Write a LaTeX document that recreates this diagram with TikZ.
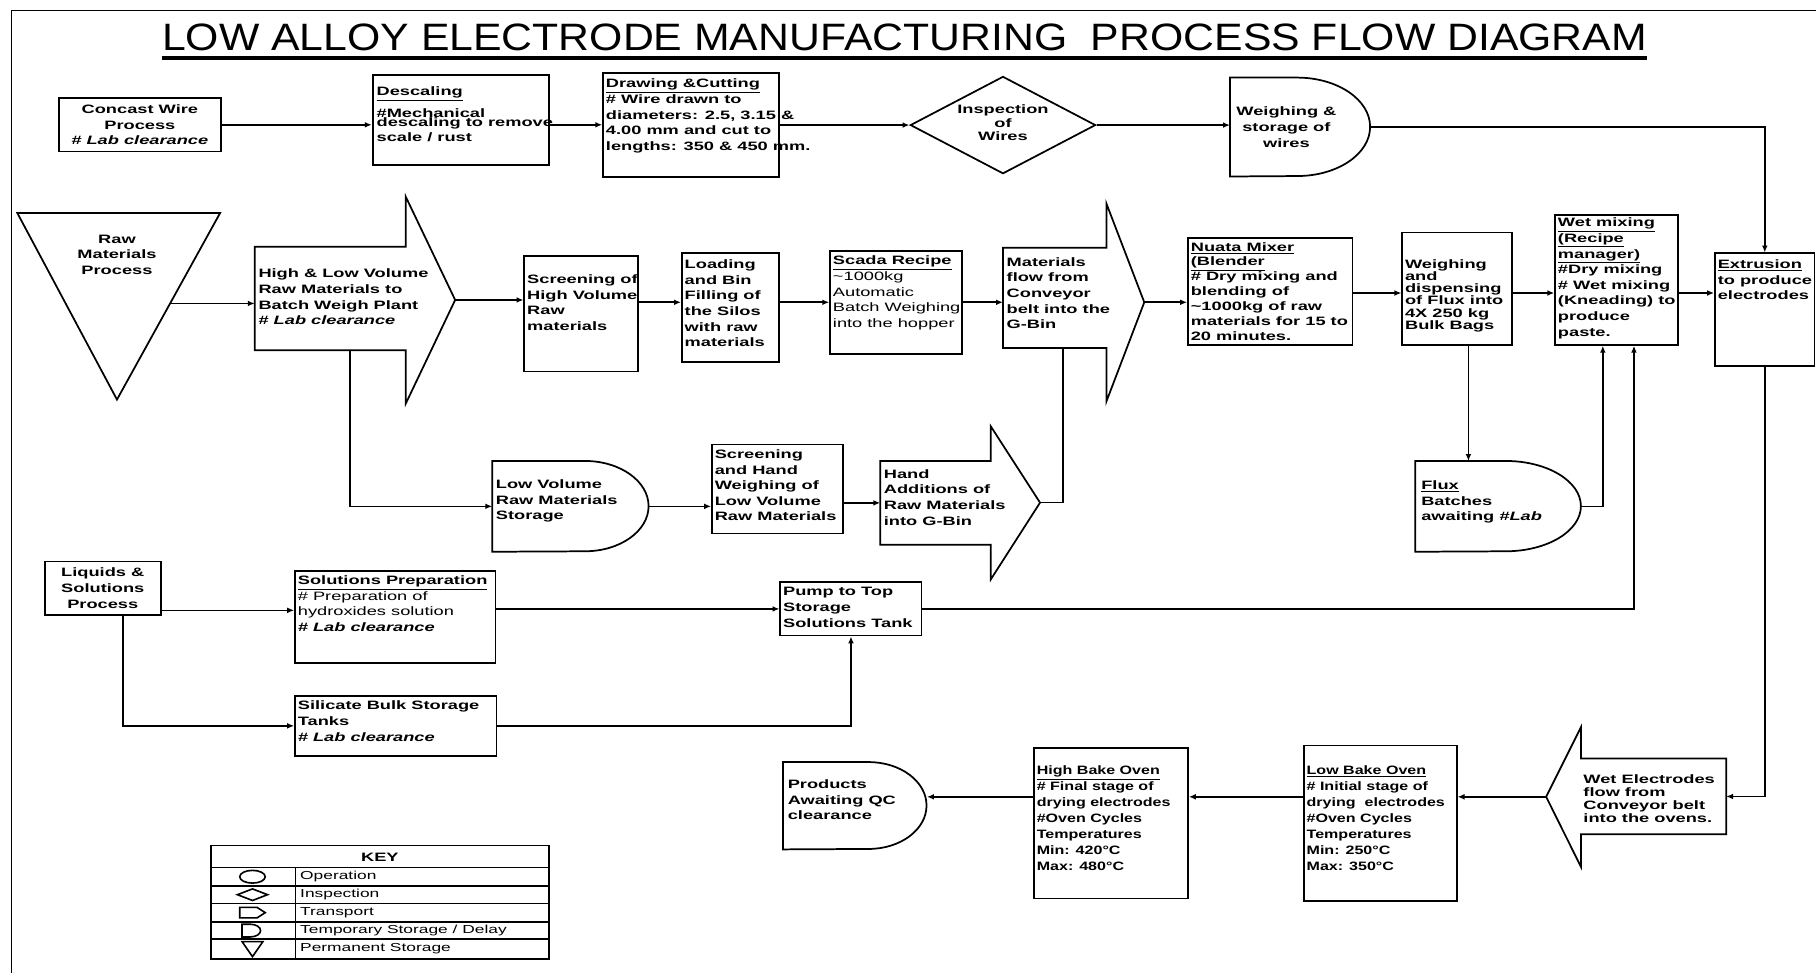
\documentclass[tikz,border=0pt]{standalone}
\usepackage{graphicx}
\usepackage{fontspec}
\setmainfont{Liberation Sans}[FakeStretch=1.5]
\newfontfamily\titlefont{Liberation Sans}
\newfontfamily\ovenfont{Liberation Sans}[FakeStretch=1.32]
\usetikzlibrary{shapes.geometric,arrows.meta,calc}
\newcommand{\bfont}{\fontsize{10.5}{13.5}\selectfont\bfseries}
\tikzset{
  box/.style={draw,line width=1.5pt,inner sep=0pt,anchor=north west},
  hid/.style={inner sep=0pt,anchor=north west},
  txt/.style={anchor=north west,align=left,inner sep=0pt,font=\bfont},
  ctxt/.style={align=center,inner sep=0pt,font=\bfont},
  shp/.style={draw,line width=1.5pt},
  arr/.style={-{Latex[length=6pt,width=5pt]},line width=1.4pt},
  ln/.style={line width=1.4pt},
  keytxt/.style={anchor=west,inner sep=0pt,font=\fontsize{10}{12}\selectfont}
}
\begin{document}
\begin{tikzpicture}[x=1pt,y=-1pt]
  \useasboundingbox (0,0) rectangle (1568,840);
  \draw[ln] (10,840) -- (10,9) -- (1568,9);
  \node[inner sep=0pt,anchor=south] (title) at (781,44)
    {\resizebox{1282pt}{23pt}{\titlefont LOW ALLOY ELECTRODE MANUFACTURING\ \ PROCESS FLOW DIAGRAM}};
  \draw[line width=3.5pt] (140,50) -- (1422,50);

  % wire line
  \node[box,minimum width=140,minimum height=46,align=center,font=\bfont] (conc) at (50,84)
    {Concast Wire\\Process\\\textit{\# Lab clearance}};
  \node[box,minimum width=152,minimum height=78] (desc) at (321,64) {};
  \node[txt] (desc-t) at ([shift={(4,11)}]desc.north west)
    {\underline{Descaling}\\[5pt]\#Mechanical\\[-6pt]descaling to remove\\scale / rust};
  \node[box,minimum width=152,minimum height=90] (drw) at (520,62) {};
  \node[txt] (drw-t) at ([shift={(3,6)}]drw.north west)
    {\underline{Drawing \&Cutting}\\\# Wire drawn to\\diameters: 2.5, 3.15 \&\\4.00 mm and cut to\\lengths: 350 \& 450 mm.};
  \node[diamond,shp,minimum width=160,minimum height=84,inner sep=0pt,aspect=1.9] (insp) at (866,108) {};
  \node[ctxt,font=\fontsize{10.5}{11.5}\selectfont\bfseries] (insp-t) at (866,106) {Inspection\\of\\Wires};
  \node[hid,minimum width=121,minimum height=85] (wst) at (1062,67) {};
  \draw[shp] (wst.north west) -- ++(58,0) arc[start angle=90,end angle=-90,x radius=63pt,y radius=42.5pt]
    -- (wst.south west) -- cycle;
  \node[ctxt] (wst-t) at ([xshift=-12pt]wst.center) {Weighing \&\\storage of\\wires};

  % raw materials line
  \draw[shp] (15,184) -- (190,184) -- (101,345) -- cycle;
  \node[ctxt] (tri) at (101,220) {Raw\\Materials\\Process};
  \coordinate (tri-e) at (147,262);
  \node[hid,minimum width=130,minimum height=89] (hlv) at (220,213) {};
  \coordinate (hlv-tip) at (393,259);
  \draw[shp] (hlv.north west) -- (hlv.north east) -- ++(0,-43) -- (hlv-tip)
    -- ($(hlv.south east)+(0,46)$) -- (hlv.south east) -- (hlv.south west) -- cycle;
  \node[txt] (hlv-t) at ([shift={(3,19)}]hlv.north west)
    {High \& Low Volume\\Raw Materials to\\Batch Weigh Plant\\\# \textit{Lab clearance}};
  \node[box,minimum width=98,minimum height=100] (scrh) at (452,220) {};
  \node[txt] (scrh-t) at ([shift={(3,17)}]scrh.north west) {Screening of\\High Volume\\Raw\\materials};
  \node[box,minimum width=84,minimum height=94] (load) at (588,218) {};
  \node[txt] (load-t) at ([shift={(3,6)}]load.north west)
    {Loading\\and Bin\\Filling of\\the Silos\\with raw\\materials};
  \node[box,minimum width=114,minimum height=89] (scada) at (716,216) {};
  \node[txt] (scada-t) at ([shift={(3,5)}]scada.north west)
    {\underline{Scada Recipe}\\\mdseries\textasciitilde1000kg\\\mdseries Automatic\\\mdseries Batch Weighing\\\mdseries into the hopper};
  \node[hid,minimum width=89,minimum height=86] (mf) at (866,214) {};
  \coordinate (mf-tip) at (988,261);
  \draw[shp] (mf.north west) -- (mf.north east) -- ++(0,-38) -- (mf-tip)
    -- ($(mf.south east)+(0,46)$) -- (mf.south east) -- (mf.south west) -- cycle;
  \node[txt] (mf-t) at ([shift={(3,8)}]mf.north west)
    {Materials\\flow from\\Conveyor\\belt into the\\G-Bin};
  \node[box,minimum width=142,minimum height=92] (nuata) at (1025,205) {};
  \node[txt,font=\fontsize{10.5}{12.8}\selectfont\bfseries] (nuata-t) at ([shift={(3,4)}]nuata.north west)
    {\underline{Nuata Mixer}\\\underline{(Blender}\\\# Dry mixing and\\blending of\\\textasciitilde1000kg of raw\\materials for 15 to\\20 minutes.};
  \node[box,minimum width=95,minimum height=97] (weigh) at (1210,200) {};
  \node[txt,font=\fontsize{10.5}{10.5}\selectfont\bfseries] (weigh-t) at ([shift={(3,24)}]weigh.north west)
    {Weighing\\and\\dispensing\\of Flux into\\4X 250 kg\\Bulk Bags};
  \node[box,minimum width=106,minimum height=112] (wetmix) at (1342,185) {};
  \node[txt] (wetmix-t) at ([shift={(3,3)}]wetmix.north west)
    {\underline{Wet mixing}\\\underline{(Recipe}\\\underline{manager)}\\\#Dry mixing\\\# Wet mixing\\(Kneading) to\\produce\\paste.};
  \node[box,minimum width=86,minimum height=97] (extr) at (1480,218) {};
  \node[txt] (extr-t) at ([shift={(3,6)}]extr.north west) {\underline{Extrusion}\\to produce\\electrodes};

  % low volume line
  \node[hid,minimum width=135,minimum height=78] (lvs) at (425,398) {};
  \draw[shp] (lvs.north west) -- ++(80,0) arc[start angle=90,end angle=-90,x radius=55pt,y radius=39pt]
    -- (lvs.south west) -- cycle;
  \node[txt] (lvs-t) at ([shift={(3,16)}]lvs.north west) {Low Volume\\Raw Materials\\Storage};
  \node[box,minimum width=113,minimum height=77] (scrl) at (614,383) {};
  \node[txt] (scrl-t) at ([shift={(3,5)}]scrl.north west)
    {Screening\\and Hand\\Weighing of\\Low Volume\\Raw Materials};
  \node[hid,minimum width=95,minimum height=72] (hand) at (760,398) {};
  \coordinate (hand-tip) at (898,434);
  \draw[shp] (hand.north west) -- (hand.north east) -- ++(0,-30) -- (hand-tip)
    -- ($(hand.south east)+(0,30)$) -- (hand.south east) -- (hand.south west) -- cycle;
  \node[txt] (hand-t) at ([shift={(3,7)}]hand.north west)
    {Hand\\Additions of\\Raw Materials\\into G-Bin};
  \node[hid,minimum width=143,minimum height=78] (flux) at (1222,398) {};
  \draw[shp] (flux.north west) -- ++(78,0) arc[start angle=90,end angle=-90,x radius=65pt,y radius=39pt]
    -- (flux.south west) -- cycle;
  \node[txt] (flux-t) at ([shift={(5,17)}]flux.north west) {\underline{Flux}\\Batches\\awaiting \textit{\#Lab}};

  % solutions line
  \node[box,minimum width=100,minimum height=46,align=center,font=\bfont] (liq) at (38,484)
    {Liquids \&\\Solutions\\Process};
  \node[box,minimum width=173,minimum height=80] (solp) at (254,492) {};
  \node[txt] (solp-t) at ([shift={(3,5)}]solp.north west)
    {\underline{Solutions Preparation}\\\mdseries\# Preparation of\\\mdseries hydroxides solution\\\itshape\# Lab clearance};
  \node[box,minimum width=122,minimum height=46] (pump) at (673,502) {};
  \node[txt] (pump-t) at ([shift={(3,5)}]pump.north west) {Pump to Top\\Storage\\Solutions Tank};
  \node[box,minimum width=174,minimum height=52] (silic) at (254,600) {};
  \node[txt] (silic-t) at ([shift={(3,5)}]silic.north west)
    {Silicate Bulk Storage\\Tanks\\\textit{\# Lab clearance}};

  % ovens line
  \node[hid,minimum width=125,minimum height=65] (we) at (1365,655) {};
  \coordinate (we-tip) at (1335,688);
  \draw[shp] (we.north east) -- (we.north west) -- ++(0,-27) -- (we-tip)
    -- ($(we.south west)+(0,28)$) -- (we.south west) -- (we.south east) -- cycle;
  \node[txt,font=\fontsize{10.5}{11}\selectfont\bfseries] (we-t) at ([shift={(2,14)}]we.north west)
    {Wet Electrodes\\flow from\\Conveyor belt\\into the ovens.};
  \node[box,minimum width=132,minimum height=134] (lbo) at (1125,643) {};
  \node[txt,font=\ovenfont\fontsize{10.5}{13.8}\selectfont\bfseries] (lbo-t) at ([shift={(3,18)}]lbo.north west)
    {\underline{Low Bake Oven}\\\# Initial stage of\\drying\ \ electrodes\\\#Oven Cycles\\Temperatures\\Min: 250°C\\Max: 350°C};
  \node[box,minimum width=133,minimum height=130] (hbo) at (892,645) {};
  \node[txt,font=\ovenfont\fontsize{10.5}{13.8}\selectfont\bfseries] (hbo-t) at ([shift={(3,16)}]hbo.north west)
    {\underline{High Bake Oven}\\\# Final stage of\\drying electrodes\\\#Oven Cycles\\Temperatures\\Min: 420°C\\Max: 480°C};
  \node[hid,minimum width=124,minimum height=75] (prod) at (676,658) {};
  \draw[shp] (prod.north west) -- ++(74,0) arc[start angle=90,end angle=-90,x radius=50pt,y radius=37.5pt]
    -- (prod.south west) -- cycle;
  \node[txt] (prod-t) at ([shift={(4,15)}]prod.north west) {Products\\Awaiting QC\\clearance};

  % connectors
  \draw[arr] (conc.east) -- (conc.east -| desc.west);
  \draw[arr] (desc.east |- conc.east) -- (conc.east -| drw.west);
  \draw[arr] (drw.east |- insp) -- (insp.west);
  \draw[arr] (insp.east) -- (insp.east -| wst.west);
  \draw[arr] (wst.east) -| (extr.north);
  \draw[arr] (tri-e) -- (tri-e -| hlv.west);
  \draw[arr] (hlv-tip) -- (hlv-tip -| scrh.west);
  \coordinate (r2) at (0,261);
  \draw[arr] (scrh.east |- r2) -- (load.west |- r2);
  \draw[arr] (load.east |- r2) -- (scada.west |- r2);
  \draw[arr] (scada.east |- r2) -- (mf.west |- r2);
  \draw[arr] (mf-tip) -- (mf-tip -| nuata.west);
  \coordinate (r2b) at (0,253);
  \draw[arr] (nuata.east |- r2b) -- (weigh.west |- r2b);
  \draw[arr] (weigh.east |- r2b) -- (wetmix.west |- r2b);
  \draw[arr] (wetmix.east |- r2b) -- (extr.west |- r2b);
  \coordinate (hlv-b) at (302,302);
  \draw[arr] (hlv-b) |- (lvs.west);
  \draw[arr] (lvs.east) -- (lvs.east -| scrl.west);
  \draw[arr] (scrl.east |- hand) -- (hand.west);
  \draw[ln] (hand-tip) -| ($(mf.south west)!0.58!(mf.south east)$);
  \coordinate (wf) at ($(weigh.south west)!0.6!(weigh.south east)$);
  \draw[arr] (wf) -- (wf |- flux.north);
  \coordinate (wm-a) at ($(wetmix.south west)!0.39!(wetmix.south east)$);
  \coordinate (wm-b) at ($(wetmix.south west)!0.64!(wetmix.south east)$);
  \draw[arr] (flux.east) -| (wm-a);
  \draw[arr] (pump.east) -| (wm-b);
  \coordinate (r4) at (0,527);
  \draw[arr] (liq.east |- r4) -- (solp.west |- r4);
  \draw[arr] (solp.east |- pump) -- (pump.west);
  \draw[arr] ($(liq.south west)!0.67!(liq.south east)$) |- (silic.west);
  \draw[arr] (silic.east) -| (pump.south);
  \draw[arr] (extr.south) |- (we.east);
  \draw[arr] (we-tip) -- (we-tip -| lbo.east);
  \draw[arr] (lbo.west |- we-tip) -- (hbo.east |- we-tip);
  \draw[arr] (hbo.west |- we-tip) -- (prod.east |- we-tip);

  % key
  \draw[ln] (182,730) rectangle (474,828);
  \foreach \y in {749,765,780,796,811} \draw[ln] (182,\y) -- (474,\y);
  \draw[ln] (255,749) -- (255,828);
  \node[font=\bfont,inner sep=0pt] (key) at (328,740) {KEY};
  \foreach \y/\t [count=\i] in {757/Operation,772.5/Inspection,788/Transport,803.5/{Temporary Storage / Delay},819.5/Permanent Storage}
    \node[keytxt] (key-\i) at (259,\y) {\t};
  \draw[ln] (218,757) ellipse (11pt and 5.5pt);
  \draw[ln] (205,772.5) -- (218,767.5) -- (231,772.5) -- (218,777.5) -- cycle;
  \draw[ln] (207,783.5) -- (222,783.5) -- (229,788) -- (222,792.5) -- (207,792.5) -- cycle;
  \draw[ln] (209,798) -- (216,798) arc[start angle=90,end angle=-90,x radius=9pt,y radius=5.5pt] -- (209,809) -- cycle;
  \draw[ln] (209,813) -- (227,813) -- (218,826) -- cycle;
\end{tikzpicture}
\end{document}
